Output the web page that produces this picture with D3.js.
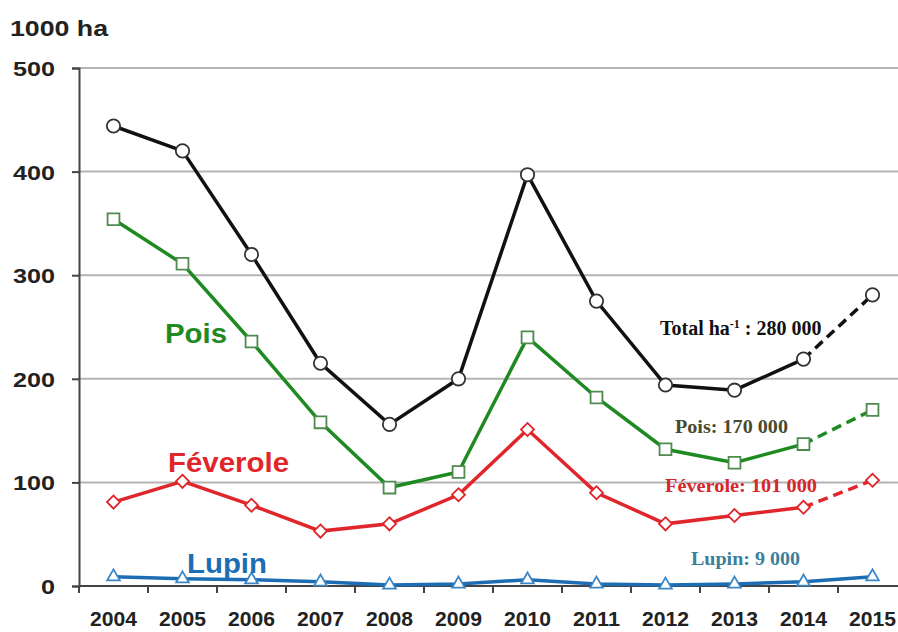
<!DOCTYPE html>
<html>
<head>
<meta charset="utf-8">
<script src="https://cdn.jsdelivr.net/npm/d3@7"></script>
<style>
  body { margin: 0; background: #fff; }
  svg { display: block; }
</style>
</head>
<body>
<div id="chart"></div>
<script>
// data (1000 ha)
var years = ["2004","2005","2006","2007","2008","2009","2010","2011","2012","2013","2014","2015"]
var total    = [444, 420, 320, 215, 156, 200, 397, 275, 194, 189, 219, 281]
var pois     = [354, 311, 236, 158, 95, 110, 240, 182, 132, 119, 137, 170]
var feverole = [81, 101, 78, 53, 60, 88, 151, 90, 60, 68, 76, 102]
var lupin    = [9, 7, 6, 4, 1, 2, 6, 2, 1, 2, 4, 9]
var yTicks = [0, 100, 200, 300, 400, 500]

var width = 898, height = 632
var margin = {top: 68, right: -9, bottom: 46, left: 79}
var sans = "Liberation Sans, Arial, sans-serif"
var serif = "Liberation Serif, Times New Roman, serif"

var svg = d3.select("#chart").append("svg")
    .attr("width", width)
    .attr("height", height)

var x = d3.scaleBand()
    .domain(years)
    .range([margin.left, width - margin.right])
    .padding(0)
var y = d3.scaleLinear()
    .domain([0, 500])
    .range([height - margin.bottom, margin.top])

//* gridlines
svg.selectAll(".grid")
    .data(yTicks.filter(function(d){ return d > 0 }))
    .enter()
    .append("line")
    .attr("x1", margin.left)
    .attr("x2", width)
    .attr("y1", function(d){ return y(d) })
    .attr("y2", function(d){ return y(d) })
    .style("stroke", "#b4b4b4")
    .style("stroke-width", 2)

//* y axis
var yAxis = svg.append("g")
    .attr("transform", "translate(" + margin.left + ",0)")
    .call(d3.axisLeft(y).tickValues(yTicks).tickSize(7).tickPadding(0))
yAxis.select(".domain").style("stroke", "#444").style("stroke-width", 2)
yAxis.selectAll(".tick line").style("stroke", "#444").style("stroke-width", 2)
yAxis.selectAll("text")
    .attr("x", -24)
    .attr("dy", "0.36em")
    .attr("font-family", sans)
    .attr("font-weight", "bold")
    .attr("font-size", "21px")
    .attr("fill", "#222")
    .attr("textLength", function(d){ return String(d).length * 14 })
    .attr("lengthAdjust", "spacingAndGlyphs")

//* x axis (ticks at category boundaries)
var xg = svg.append("g")
    .attr("transform", "translate(0," + y(0) + ")")
xg.append("line")
    .attr("x1", margin.left).attr("x2", width)
    .style("stroke", "#444").style("stroke-width", 2)
xg.selectAll(".xt")
    .data(years)
    .enter()
    .append("line")
    .attr("x1", function(d){ return x(d) })
    .attr("x2", function(d){ return x(d) })
    .attr("y1", 0).attr("y2", 7)
    .style("stroke", "#444").style("stroke-width", 2)
xg.selectAll(".xl")
    .data(years)
    .enter()
    .append("text")
    .attr("x", function(d){ return x(d) + x.bandwidth() / 2 })
    .attr("y", 40)
    .attr("text-anchor", "middle")
    .attr("font-family", sans)
    .attr("font-weight", "bold")
    .attr("font-size", "21px")
    .attr("fill", "#222")
    .attr("textLength", 47)
    .attr("lengthAdjust", "spacingAndGlyphs")
    .text(function(d){ return d })

svg.append("text")
    .attr("x", 10).attr("y", 36)
    .attr("font-family", sans)
    .attr("font-weight", "bold")
    .attr("font-size", "22px")
    .attr("fill", "#222")
    .attr("textLength", 98)
    .attr("lengthAdjust", "spacingAndGlyphs")
    .text("1000 ha")

//* series
var series = [
  {name: "total", values: total, color: "#111", stroke: "#333", marker: d3.symbolCircle, size: 140, rot: 0, dashLast: true},
  {name: "pois", values: pois, color: "#1f8a22", stroke: "#4f8a4f", marker: d3.symbolSquare, size: 140, rot: 0, dashLast: true},
  {name: "feverole", values: feverole, color: "#e0262b", stroke: "#e0262b", marker: d3.symbolSquare, size: 85, rot: 45, dashLast: true},
  {name: "lupin", values: lupin, color: "#1d6db4", stroke: "#3b86c4", marker: d3.symbolTriangle, size: 70, rot: 0, dashLast: false}
]

var line = d3.line()
    .x(function(d){ return x(d.year) + x.bandwidth() / 2 })
    .y(function(d){ return y(d.v) })

series.forEach(function(s) {
    var pts = years.map(function(yr, i){ return {year: yr, v: s.values[i]} })
    var solid = s.dashLast ? pts.slice(0, pts.length - 1) : pts
    svg.append("path")
        .attr("d", line(solid))
        .style("fill", "none")
        .style("stroke", s.color)
        .style("stroke-width", 3.5)
    if (s.dashLast) {
        svg.append("path")
            .attr("d", line(pts.slice(pts.length - 2)))
            .style("fill", "none")
            .style("stroke", s.color)
            .style("stroke-width", 3.5)
            .style("stroke-dasharray", "10,6")
    }
    svg.selectAll(".m-" + s.name)
        .data(pts)
        .enter()
        .append("path")
        .attr("transform", function(d){ return "translate(" + (x(d.year) + x.bandwidth() / 2) + "," + y(d.v) + ") rotate(" + s.rot + ")" })
        .attr("d", d3.symbol().type(s.marker).size(s.size))
        .style("fill", "#fff")
        .style("stroke", s.stroke)
        .style("stroke-width", 1.8)
})

//* labels on the series
var sansLabels = [
  {text: "Pois", x: 165, y: 343, len: 62, color: "#1f8a22"},
  {text: "Féverole", x: 168, y: 472, len: 121, color: "#e0262b"},
  {text: "Lupin", x: 187, y: 573, len: 80, color: "#1d6db4"}
]
svg.selectAll(".sl")
    .data(sansLabels)
    .enter()
    .append("text")
    .attr("x", function(d){ return d.x })
    .attr("y", function(d){ return d.y })
    .attr("font-family", sans)
    .attr("font-weight", "bold")
    .attr("font-size", "27px")
    .attr("fill", function(d){ return d.color })
    .attr("textLength", function(d){ return d.len })
    .attr("lengthAdjust", "spacingAndGlyphs")
    .text(function(d){ return d.text })

var serifLabels = [
  {text: "Pois: 170 000", x: 675, y: 433, len: 113, color: "#4a4a2e"},
  {text: "Féverole: 101 000", x: 665, y: 492, len: 152, color: "#d8262b"},
  {text: "Lupin: 9 000", x: 691, y: 565, len: 109, color: "#3c7f9c"}
]
svg.selectAll(".rl")
    .data(serifLabels)
    .enter()
    .append("text")
    .attr("x", function(d){ return d.x })
    .attr("y", function(d){ return d.y })
    .attr("font-family", serif)
    .attr("font-weight", "bold")
    .attr("font-size", "19px")
    .attr("fill", function(d){ return d.color })
    .attr("textLength", function(d){ return d.len })
    .attr("lengthAdjust", "spacingAndGlyphs")
    .text(function(d){ return d.text })

var tot = svg.append("text")
    .attr("x", 660).attr("y", 335)
    .attr("font-family", serif)
    .attr("font-weight", "bold")
    .attr("font-size", "20px")
    .attr("fill", "#111")
tot.append("tspan").text("Total ha")
tot.append("tspan").attr("dy", -7).attr("font-size", "12px").text("-1")
tot.append("tspan").attr("dy", 7).text(" : 280 000")
</script>
</body>
</html>
